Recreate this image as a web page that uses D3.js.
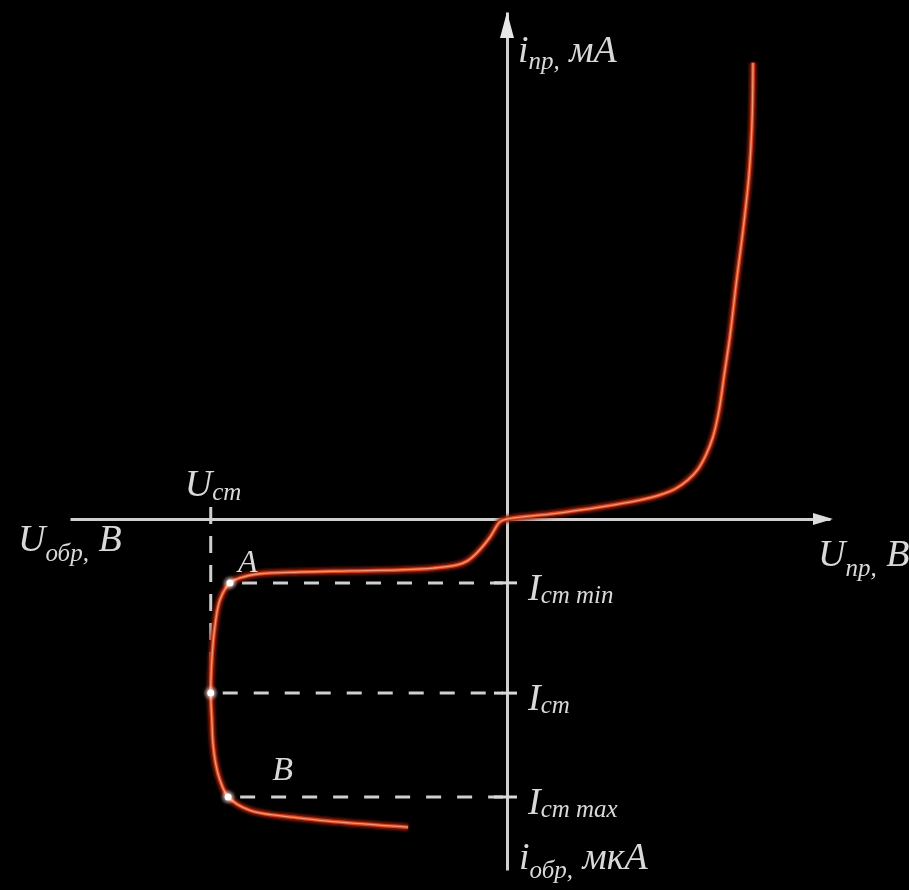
<!DOCTYPE html>
<html>
<head>
<meta charset="utf-8">
<script src="https://cdn.jsdelivr.net/npm/d3@7"></script>
<style>
  body { margin: 0; background: #000; }
  svg { display: block; }
  .label { font-family: "Liberation Serif", "DejaVu Serif", serif; font-style: italic; fill: #d9d9d9; }
</style>
</head>
<body>
<div class="chart"></div>
<script>
var svgWidth = 909;
var svgHeight = 890;

// reverse branch, from the tail up to the origin (U in V, I in uA)
var reverseU = [-2.67, -4.24, -5.59, -6.94, -7.53, -7.75, -7.86, -7.94, -7.97, -8.0, -7.97, -7.89, -7.75,
  -7.48, -7.21, -6.67, -5.59, -4.24, -2.89, -2.0, -1.35, -1.08, -0.81, -0.46, -0.19, 0];
var reverseI = [-43.9, -43.3, -42.6, -41.5, -39.6, -37.2, -35.0, -31.9, -28.6, -24.8, -20.1, -15.4, -11.5,
  -9.1, -8.4, -7.8, -7.55, -7.4, -7.25, -7.0, -6.55, -6.0, -4.8, -2.6, -0.4, 0];

// forward branch (U in V, I in mA)
var forwardU = [0.16, 0.346, 0.494, 0.568, 0.624, 0.672, 0.71, 0.739, 0.765, 0.788, 0.807,
  0.829, 0.851, 0.877, 0.899, 0.91, 0.914];
var forwardI = [0.49, 1.18, 1.87, 2.37, 2.96, 3.85, 4.93, 6.31, 8.09, 10.75, 14.2,
  18.15, 23.1, 28.5, 33.9, 38.9, 45.0];

// stabilisation points
var zenerU = [-7.48, -8.0, -7.53];
var zenerI = [-9.1, -24.8, -39.6];
var zenerSub = ["ст min", "ст", "ст max"];
var pointNames = ["А", "", "В"];
var uStab = -8.0;

// piecewise scales: reverse and forward halves use different units
var x = d3.scaleLinear().domain([-11.8, 0, 1.2]).range([70, 507, 830]);
var y = d3.scaleLinear().domain([-50, 0, 50]).range([870, 519, 12]);

var svg = d3.select(".chart")
  .append("svg")
  .attr("width", svgWidth)
  .attr("height", svgHeight)
  .style("background", "#000");

var defs = svg.append("defs");
defs.append("filter").attr("id", "soft")
  .append("feGaussianBlur").attr("stdDeviation", 0.7);
defs.append("filter").attr("id", "glow").attr("x", "-20%").attr("y", "-20%").attr("width", "140%").attr("height", "140%")
  .append("feGaussianBlur").attr("stdDeviation", 1.8);

var g = svg.append("g").attr("filter", "url(#soft)");

// axes (no ticks, only the domain lines)
var xAxis = g.append("g")
  .attr("transform", `translate(0, ${y(0)})`)
  .call(d3.axisBottom(x).tickValues([]).tickSizeOuter(0));
var yAxis = g.append("g")
  .attr("transform", `translate(${x(0)}, 0)`)
  .call(d3.axisLeft(y).tickValues([]).tickSizeOuter(0));
g.selectAll(".domain").attr("stroke", "#cfcfcf").attr("stroke-width", 3);

// arrow heads
var xe = x(1.2), ye = y(50);
g.append("path")
  .attr("d", `M${xe + 3},${y(0)} L${xe - 17},${y(0) - 6} L${xe - 17},${y(0) + 6} Z`)
  .attr("fill", "#dcdcdc");
g.append("path")
  .attr("d", `M${x(0)},${ye} L${x(0) - 7},${ye + 26} L${x(0) + 7},${ye + 26} Z`)
  .attr("fill", "#e6e6e6");

// U_st dashed line
g.append("line")
  .attr("x1", x(uStab)).attr("x2", x(uStab))
  .attr("y1", y(0) - 12).attr("y2", y(zenerI[1]))
  .attr("stroke", "#cfcfcf").attr("stroke-width", 3)
  .attr("stroke-dasharray", "17,12");

// horizontal dashed lines and ticks on the current axis
zenerI.forEach(function(v, i) {
  g.append("line")
    .attr("x1", x(zenerU[i]) + 12).attr("x2", x(0) - 4)
    .attr("y1", y(v)).attr("y2", y(v))
    .attr("stroke", "#cfcfcf").attr("stroke-width", 3)
    .attr("stroke-dasharray", "15,16");
  g.append("line")
    .attr("x1", x(0) - 13).attr("x2", x(0) + 10)
    .attr("y1", y(v)).attr("y2", y(v))
    .attr("stroke", "#d8d8d8").attr("stroke-width", 3);
});

// curve
var curveData = reverseU.map(function(u, i) { return [u, reverseI[i]]; })
  .concat(forwardU.map(function(u, i) { return [u, forwardI[i]]; }));

var line = d3.line()
  .x(d => x(d[0]))
  .y(d => y(d[1]))
  .curve(d3.curveCatmullRom.alpha(0.5));

svg.append("path").datum(curveData)
  .attr("d", line).attr("fill", "none")
  .attr("stroke", "#8a1a08").attr("stroke-width", 7)
  .attr("filter", "url(#glow)");
svg.append("path").datum(curveData)
  .attr("d", line).attr("fill", "none")
  .attr("stroke", "#d9461f").attr("stroke-width", 3.5)
  .attr("filter", "url(#soft)");
svg.append("path").datum(curveData)
  .attr("d", line).attr("fill", "none")
  .attr("stroke", "#f6a383").attr("stroke-width", 1.3)
  .attr("opacity", 0.85);

// points
zenerI.forEach(function(v, i) {
  svg.append("circle")
    .attr("cx", x(zenerU[i])).attr("cy", y(v)).attr("r", 6)
    .attr("fill", "#ffffff").attr("opacity", 0.5).attr("filter", "url(#glow)");
  svg.append("circle")
    .attr("cx", x(zenerU[i])).attr("cy", y(v)).attr("r", 3.5)
    .attr("fill", "#ffffff");
});

// labels
var labels = svg.append("g").attr("filter", "url(#soft)");

function addLabel(px, py, main, sub, tail, dy) {
  var t = labels.append("text")
    .attr("class", "label")
    .attr("x", px).attr("y", py)
    .attr("font-size", 38);
  t.append("tspan").text(main);
  t.append("tspan").attr("font-size", 25).attr("dy", dy).text(sub);
  if (tail) t.append("tspan").attr("dy", -dy).text(tail);
}

addLabel(x(0) + 11, y(50) + 50, "i", "пр,", " мА", 7);
addLabel(x(0) + 12, 869, "i", "обр,", " мкА", 9);
addLabel(18, y(0) + 32, "U", "обр,", " В", 10);
addLabel(818, y(0) + 47, "U", "пр,", " В", 10);
addLabel(x(uStab) - 26, y(0) - 23, "U", "ст", null, 4);

zenerI.forEach(function(v, i) {
  addLabel(x(0) + 21, y(v) + 17, "I", zenerSub[i], null, 3);
});

labels.append("text").attr("class", "label")
  .attr("x", x(zenerU[0]) + 8).attr("y", y(zenerI[0]) - 11)
  .attr("font-size", 32).text(pointNames[0]);
labels.append("text").attr("class", "label")
  .attr("x", x(zenerU[2]) + 44).attr("y", y(zenerI[2]) - 17)
  .attr("font-size", 34).text(pointNames[2]);
</script>
</body>
</html>
